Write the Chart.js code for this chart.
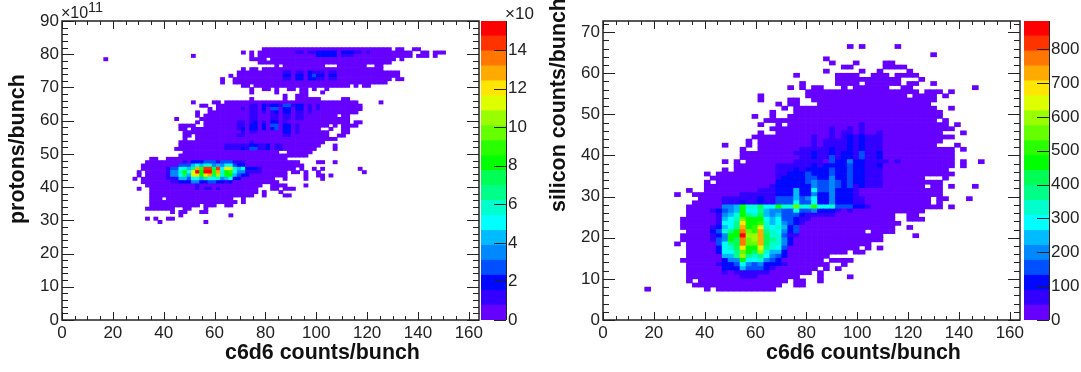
<!DOCTYPE html>
<html>
<head>
<meta charset="UTF-8">
<title>c6d6 correlations</title>
<script src="https://cdn.jsdelivr.net/npm/chart.js"></script>
<style>
    html, body { margin: 0; padding: 0; background: #fff; overflow: hidden; }
    body { width: 1081px; height: 372px; position: relative; font-family: "Liberation Sans", Arial, sans-serif; color: #222; }
    canvas { position: absolute; top: 0; }
    .txt { position: absolute; white-space: nowrap; line-height: 1; }
    .title { font-weight: bold; font-size: 21.4px; color: #111; }
    .vert { transform-origin: left top; transform: rotate(-90deg); }
</style>
</head>
<body>
<canvas id="protonChart" width="490" height="372" style="left:0"></canvas>
<canvas id="protonScale" width="64" height="372" style="left:481px"></canvas>
<canvas id="siliconChart" width="490" height="372" style="left:541px"></canvas>
<canvas id="siliconScale" width="57" height="372" style="left:1024px"></canvas>

<div class="txt" style="left:61px;top:5px;font-size:16px">×10</div>
<div class="txt" style="left:88px;top:0px;font-size:14.5px">11</div>
<div class="txt" style="left:505px;top:5px;font-size:17px">×10</div>
<div class="txt title" style="left:225px;top:342px">c6d6 counts/bunch</div>
<div class="txt title" style="left:766px;top:342px">c6d6 counts/bunch</div>
<div class="txt title vert" style="left:7px;top:224px">protons/bunch</div>
<div class="txt title vert" style="left:548px;top:212px">silicon counts/bunch</div>

<script>
    // ROOT rainbow palette, 20 bands
    const bandColors = ['#6600ff','#3300ff','#0008ff','#0050ff','#0088ff','#00bbff','#00ffff','#00ffcc',
        '#00ff88','#00ff55','#00ff00','#2aff00','#66ff00','#99ff00','#ddff00','#ffe600',
        '#ffaa00','#ff7700','#ff3300','#ff0000'];

    const xTicks = [0, 20, 40, 60, 80, 100, 120, 140, 160];
    const protonYTicks = [0, 10, 20, 30, 40, 50, 60, 70, 80, 90];
    const siliconYTicks = [0, 10, 20, 30, 40, 50, 60, 70];
    const protonScaleTicks = [0, 2, 4, 6, 8, 10, 12, 14];
    const siliconScaleTicks = [0, 100, 200, 300, 400, 500, 600, 700, 800];

    // filled bins of the lowest band: [row, from, to, from, to, ...]
    const protonRows = [
        [81, 48,78, 80,81, 84,85],
        [80, 43,43, 45,45, 47,83, 86,87, 89,91],
        [79, 31,31, 45,45, 47,83, 85,87, 89,89],
        [78, 10,10, 45,48, 50,79, 81,81],
        [77, 47,78],
        [76, 51,51, 53,62, 66,72, 75,76],
        [75, 43,43, 45,46, 48,76],
        [74, 42,80],
        [73, 40,40, 42,80],
        [72, 38,38, 41,78, 80,81],
        [71, 38,38, 41,77],
        [70, 43,44, 46,68, 70,70, 72,73],
        [69, 45,45, 48,49, 51,51, 54,55, 57,58, 60,60, 63,63],
        [68, 45,45, 51,51, 57,58, 62,62],
        [67, 53,53, 56,58],
        [66, 45,45, 53,53, 56,61, 67,68],
        [65, 31,31, 36,37, 39,70, 76,76],
        [64, 33,34, 37,71],
        [63, 35,35, 37,71],
        [62, 32,32, 35,70],
        [61, 32,32, 34,65, 67,68],
        [60, 27,27, 33,68],
        [59, 32,32, 34,68, 70,71],
        [58, 28,31, 34,63, 65,65, 67,70],
        [57, 28,29, 31,61, 64,64, 67,68],
        [56, 29,63, 67,68],
        [55, 29,30, 32,63, 66,67],
        [54, 29,29, 32,63, 64,65],
        [53, 28,62],
        [52, 28,61, 65,65],
        [51, 27,60, 65,65],
        [50, 29,51, 54,59],
        [49, 28,52, 53,58],
        [48, 21,22, 25,53],
        [47, 20,56, 61,62, 65,65],
        [46, 19,57],
        [45, 19,55, 57,57, 60,60, 62,62, 71,71],
        [44, 18,18, 20,53, 55,56, 58,58, 61,61, 72,72],
        [43, 18,18, 20,53, 58,58, 61,62, 64,64],
        [42, 17,17, 19,50, 53,53, 58,58, 62,62],
        [41, 19,48, 49,51],
        [40, 20,47, 50,53, 58,58],
        [39, 18,18, 21,46, 50,51, 53,55],
        [38, 21,46, 48,48, 52,52],
        [37, 21,45, 48,48, 53,54],
        [36, 21,23, 25,40, 43,43],
        [35, 21,41, 43,43],
        [34, 21,32, 34,36, 39,40],
        [33, 20,26, 29,30, 34,34],
        [32, 26,26, 28,29, 33,34],
        [31, 28,28, 40,40],
        [30, 20,20, 22,22, 25,26],
        [29, 23,23, 34,34]
    ];

    // denser bins: [row, first bin, band of each following bin]
    const protonHot = [
        [80, 56, [1,1,0,1,1,2,2,2,2,2,0,2,2,2,1,1,0,1]],
        [79, 61, [2,2,2,2,2,0,1,1,1]],
        [74, 53, [1,1,0,1,1,0,2,1,1,1,0,1,1]],
        [73, 53, [2,2,0,2,2,0,2,3,2,2,0,2,2]],
        [72, 53, [1,1,0,2,2,0,2,2,1,1,0,1,1]],
        [64, 45, [1,1,0,2,1,2,2,1,3,3,1,2,2,0,1,0,1]],
        [63, 43, [1,0,1,1,0,2,0,3,3,0,2,2,0,2,2,0,1,0,1]],
        [62, 45, [1,1,0,1,0,1,2,0,2,2,0,1,1,0,1]],
        [61, 45, [1,1,0,0,0,1,1,0,1,1,0,1,1]],
        [60, 45, [1,1,0,0,0,1,1,0,1,1,0,1,1]],
        [59, 42, [1,1,0,1,2,0,1,0,2,2,0,1]],
        [58, 42, [1,1,0,2,2,0,2,0,3,3,0,2,2,0,1]],
        [57, 42, [1,2,0,2,2,0,2,0,2,3,0,2,2,0,1]],
        [56, 43, [1,0,1,1,0,0,0,0,0,0,2,2,0,1]],
        [55, 42, [1,1,0,0,0,0,0,0,0,0,0,1,1]],
        [53, 45, [1]],
        [52, 39, [1,1,1,1,1,1,2,2,1,1,2,0,1,1]],
        [51, 39, [1,1,1,1,2,1,3,3,1,1,2,0,1,1]],
        [47, 29, [1,0,2,2,2,3,3,3,1,3,3,3,1,1,1]],
        [46, 28, [3,3,3,5,6,5,7,7,4,5,4,6,6,3,2,2]],
        [45, 25, [1,3,3,6,7,5,8,16,11,18,18,9,18,6,15,14,7,5,6,2,2,2,1]],
        [44, 25, [1,4,4,7,10,6,14,19,10,19,19,11,16,7,10,11,6,4,4,1,1,1,1]],
        [43, 25, [1,4,4,6,9,5,14,15,10,15,16,9,13,7,10,10,5,3,2,2]],
        [42, 25, [1,1,1,5,5,3,6,6,5,8,6,6,7,4,5,6,2,2]],
        [41, 26, [1,1,2,2,2,4,4,2,2,3,3,2,2,1,2]],
        [40, 32, [1]],
        [39, 32, [1,0,1,1,0,1]]
    ];

    const siliconRows = [
        [66, 41,41, 43,43, 49,49],
        [64, 55,55],
        [63, 37,37],
        [62, 38,38, 42,42, 47,48],
        [61, 40,41, 47,50],
        [60, 37,37, 43,43, 46,46, 51,51],
        [59, 32,32, 39,42, 45,47, 49,52],
        [58, 39,49, 53,53],
        [57, 33,33, 39,42, 44,49, 51,52, 55,55],
        [56, 31,31, 33,33, 35,36, 40,40, 42,47, 50,51, 62,62],
        [55, 34,52, 54,56, 58,58],
        [54, 26,26, 34,50, 52,55, 57,57],
        [53, 26,26, 31,32, 35,55],
        [52, 29,29, 31,32, 36,54],
        [51, 30,30, 32,55, 58,58],
        [50, 28,28, 32,56],
        [49, 25,25, 28,28, 31,56],
        [48, 27,55, 57,57],
        [47, 26,26, 29,29, 31,57, 59,59],
        [46, 28,58],
        [45, 26,26, 29,56, 60,60],
        [44, 25,58],
        [43, 24,24, 26,56],
        [42, 20,20, 24,24, 26,55, 59,59],
        [41, 23,23, 26,58, 60,60],
        [40, 23,58],
        [39, 23,58],
        [38, 20,20, 22,22, 24,58, 60,60, 63,63],
        [37, 22,58, 60,60],
        [36, 20,20, 22,57],
        [35, 17,17, 19,58],
        [34, 18,53, 57,57],
        [33, 17,17, 19,56],
        [32, 17,53, 55,56, 58,58, 62,62],
        [31, 14,14, 17,56],
        [30, 12,12, 15,56],
        [29, 16,54, 56,57, 61,61],
        [28, 15,54, 56,56],
        [27, 14,56, 58,58],
        [26, 14,53],
        [25, 14,48, 51,52],
        [24, 13,48, 51,53],
        [23, 13,49],
        [22, 13,48, 51,51],
        [21, 14,43, 45,48],
        [20, 13,46, 52,52],
        [19, 13,46],
        [18, 12,12, 14,44],
        [17, 14,42, 44,44, 46,46],
        [16, 14,40, 42,43],
        [15, 14,37],
        [14, 13,36, 38,41],
        [13, 14,37, 40,40],
        [12, 14,35, 37,37, 39,39],
        [11, 14,34, 36,36],
        [10, 14,32, 36,36, 41,41],
        [9, 14,14, 16,30, 32,33, 36,36],
        [8, 15,29, 32,33],
        [7, 7,7, 17,17, 19,28]
    ];

    const siliconHot = [
        [47, 43, [1]],
        [46, 38, [1,0,0,1,0,1]],
        [45, 38, [1,0,1,1,0,1,0,0,1]],
        [44, 35, [1,0,0,1,0,1,2,1,2,1,1,1]],
        [43, 35, [1,0,1,1,1,1,2,1,2,1,1,1]],
        [42, 35, [1,0,1,1,1,1,2,1,2,1,1,1]],
        [41, 33, [1,1,1,1,1,2,1,1,2,1,2,1,1,1]],
        [40, 32, [1,1,1,2,1,1,2,1,2,2,1,3,1,1,2]],
        [39, 33, [1,1,2,1,1,3,1,2,2,1,3,1,1,2]],
        [38, 32, [1,1,1,1,1,0,3,2,2,4,2,2,1,1,1,1,0,1]],
        [37, 29, [1,1,1,1,1,1,2,1,2,2,2,2,3,2,2,1,1,2]],
        [36, 29, [1,1,1,2,1,2,2,2,2,3,2,2,3,2,2,1,1,1]],
        [35, 29, [1,1,2,2,2,3,2,2,2,3,2,2,3,2,2,1,1,1]],
        [34, 29, [1,2,2,2,2,3,3,2,2,4,2,2,3,2,2,1,1,1]],
        [33, 29, [2,2,2,2,2,3,4,3,3,4,3,2,3,2,2,1,1,1]],
        [32, 28, [1,2,2,2,2,2,2,4,3,3,4,3,2,3,1,2,1,1,1]],
        [31, 26, [1,1,1,2,2,2,5,2,2,6,3,3,4,2,2,2,1]],
        [30, 23, [1,1,1,1,1,1,2,2,2,5,2,2,4,2,2,4,2,2,2,1]],
        [29, 20, [1,1,1,1,1,1,2,1,1,3,3,3,5,3,4,6,2,2,4,2,2,2,1,1]],
        [28, 20, [1,1,1,2,1,1,2,1,1,3,3,3,6,3,3,6,2,2,4,2,2,2,1,1]],
        [27, 20, [4,4,5,10,7,7,9,6,6,10,7,7,12,7,7,11,6,6,7,3,3,3,2,2,1]],
        [26, 18, [1,2,3,4,5,10,6,6,8,5,4,4,3,3,6,3,3,4,2,2,2,1,0,1]],
        [25, 19, [1,4,5,7,10,8,7,9,5,4,5,3,3,3,2,1,1,1,1,1]],
        [24, 19, [1,5,6,7,12,10,10,10,6,5,6,3,3,2,1,1]],
        [23, 19, [1,6,6,8,15,10,10,11,7,5,6,4,3,2,1]],
        [22, 18, [1,2,5,6,8,16,10,11,14,7,6,7,5,2,3]],
        [21, 18, [2,3,7,8,10,17,12,11,16,8,7,6,4,2,3]],
        [20, 18, [1,2,4,10,10,19,13,13,16,9,7,7,3,1,1]],
        [19, 18, [1,3,4,10,9,17,12,13,16,9,8,7,4,2]],
        [18, 19, [3,6,8,9,17,12,12,16,9,7,7,4,2]],
        [17, 19, [2,6,7,9,15,10,10,14,8,7,6,3]],
        [16, 19, [2,6,6,8,12,10,9,13,7,5,5,2]],
        [15, 20, [5,5,8,13,8,7,8,6,4,3,2]],
        [14, 20, [2,4,4,10,6,6,7,4,3,2]],
        [13, 19, [1,2,2,3,6,4,3,4,2,2,2,1]],
        [12, 20, [2,2,2,5,3,3,3,2,1]],
        [11, 20, [1,0,1,1,1,1,1,1]],
        [10, 23, [1,1,1]]
    ];

    // turn the row tables into one bar per bin
    function buildCells(rows, hot, binW, binH) {
        const cells = new Map();
        const put = (row, bin, band) => cells.set(row + ':' + bin, {
            x: (bin + 0.5) * binW,
            y: [row * binH, (row + 1) * binH],
            band: band
        });
        rows.forEach(r => {
            for (let i = 1; i < r.length; i += 2) {
                for (let b = r[i]; b <= r[i + 1]; b++) put(r[0], b, 0);
            }
        });
        hot.forEach(h => h[2].forEach((band, i) => put(h[0], h[1] + i, band)));
        return Array.from(cells.values());
    }

    // ROOT style frame: ticks point inwards on all four sides
    const rootFrame = {
        id: 'rootFrame',
        afterDatasetsDraw(chart, args, opts) {
            const { ctx, chartArea: a, scales } = chart;
            ctx.save();
            ctx.strokeStyle = '#222';
            ctx.lineWidth = 1;
            ctx.beginPath();
            for (let v = 0; v <= scales.x.max; v += opts.xMinor) {
                const px = Math.round(scales.x.getPixelForValue(v)) + 0.5;
                const len = v % opts.xMajor === 0 ? 8 : 4;
                ctx.moveTo(px, a.bottom); ctx.lineTo(px, a.bottom - len);
                ctx.moveTo(px, a.top); ctx.lineTo(px, a.top + len);
            }
            for (let v = 0; v <= scales.y.max; v += opts.yMinor) {
                const py = Math.round(scales.y.getPixelForValue(v)) + 0.5;
                const len = v % opts.yMajor === 0 ? 12 : 6;
                ctx.moveTo(a.left, py); ctx.lineTo(a.left + len, py);
                ctx.moveTo(a.right, py); ctx.lineTo(a.right - len, py);
            }
            ctx.stroke();
            ctx.lineWidth = 1.5;
            ctx.strokeRect(a.left, a.top, a.right - a.left, a.bottom - a.top);
            ctx.restore();
        }
    };

    const scaleTicksMark = {
        id: 'scaleTicksMark',
        afterDatasetsDraw(chart) {
            const { ctx, chartArea: a, scales } = chart;
            ctx.save();
            ctx.strokeStyle = '#222';
            ctx.lineWidth = 1;
            ctx.beginPath();
            scales.y.ticks.forEach(t => {
                const py = Math.round(scales.y.getPixelForValue(t.value)) + 0.5;
                ctx.moveTo(a.right - 12, py); ctx.lineTo(a.right, py);
            });
            ctx.moveTo(a.right + 0.5, a.top); ctx.lineTo(a.right + 0.5, a.bottom);
            ctx.stroke();
            ctx.restore();
        }
    };

    const tickFont = { family: '"Liberation Sans", Arial, sans-serif', size: 17 };
    const noGrid = { display: false, drawTicks: false };

    function heatChart(id, cells, binPx, yMax, yTicks) {
        return new Chart(document.getElementById(id), {
            type: 'bar',
            data: {
                datasets: [{
                    data: cells,
                    barThickness: binPx,
                    backgroundColor: c => bandColors[c.raw.band]
                }]
            },
            options: {
                responsive: false,
                animation: false,
                events: [],
                layout: { autoPadding: false, padding: { top: 21, right: 11, bottom: 0, left: 0 } },
                plugins: {
                    legend: { display: false },
                    tooltip: { enabled: false },
                    rootFrame: { xMinor: 5, xMajor: 20, yMinor: 2, yMajor: 10 }
                },
                scales: {
                    x: {
                        type: 'linear', min: 0, max: 164, offset: false,
                        grid: noGrid, border: { display: false },
                        afterFit: s => { s.height = 52; },
                        afterBuildTicks: s => { s.ticks = xTicks.map(v => ({ value: v })); },
                        ticks: { font: tickFont, color: '#222', padding: 3, maxRotation: 0, autoSkip: false }
                    },
                    y: {
                        type: 'linear', min: 0, max: yMax,
                        grid: noGrid, border: { display: false },
                        afterFit: s => { s.width = 62; },
                        afterBuildTicks: s => { s.ticks = yTicks.map(v => ({ value: v })); },
                        ticks: { font: tickFont, color: '#222', padding: 3, autoSkip: false }
                    }
                }
            },
            plugins: [rootFrame]
        });
    }

    function scaleChart(id, band, yMax, ticks, rightPad) {
        return new Chart(document.getElementById(id), {
            type: 'bar',
            data: {
                labels: [''],
                datasets: bandColors.map(color => ({
                    data: [band],
                    backgroundColor: color,
                    barPercentage: 1,
                    categoryPercentage: 1
                }))
            },
            options: {
                responsive: false,
                animation: false,
                events: [],
                layout: { autoPadding: false, padding: { top: 21, right: 0, bottom: 52, left: 0 } },
                plugins: { legend: { display: false }, tooltip: { enabled: false } },
                scales: {
                    x: { stacked: true, display: false },
                    y: {
                        stacked: true, position: 'right', min: 0, max: yMax,
                        grid: noGrid, border: { display: false },
                        afterFit: s => { s.width = rightPad; },
                        afterBuildTicks: s => { s.ticks = ticks.map(v => ({ value: v })); },
                        ticks: { font: tickFont, color: '#222', padding: 2, autoSkip: false }
                    }
                }
            },
            plugins: [scaleTicksMark]
        });
    }

    heatChart('protonChart', buildCells(protonRows, protonHot, 1.64, 1), 4.17, 90, protonYTicks);
    heatChart('siliconChart', buildCells(siliconRows, siliconHot, 164 / 70, 1), 5.96, 72.7, siliconYTicks);
    scaleChart('protonScale', 15.5 / 20, 15.5, protonScaleTicks, 39);
    scaleChart('siliconScale', 883 / 20, 883, siliconScaleTicks, 32);
</script>
</body>
</html>
